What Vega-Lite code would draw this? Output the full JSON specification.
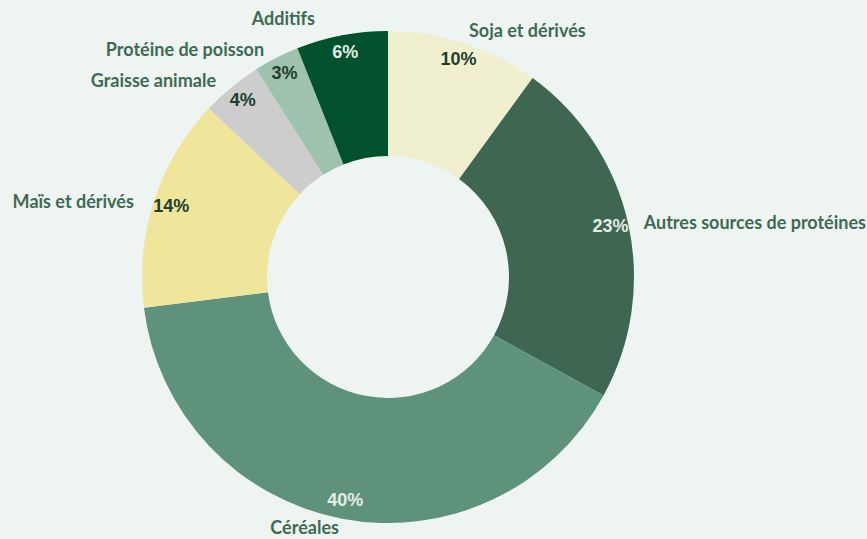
{
  "$schema": "https://vega.github.io/schema/vega-lite/v6.json",
  "autosize": {"type": "none"},
  "width": 540,
  "height": 538,
  "padding": {"left": 118, "top": 8, "right": 209, "bottom": 1},
  "background": "#eef4f1",
  "config": {"view": {"stroke": null}},
  "data": {
    "values": [
      {"order": 1, "label": "Soja et dérivés", "value": 10, "pct": "10%"},
      {"order": 2, "label": "Autres sources de protéines", "value": 23, "pct": "23%"},
      {"order": 3, "label": "Céréales", "value": 40, "pct": "40%"},
      {"order": 4, "label": "Maïs et dérivés", "value": 14, "pct": "14%"},
      {"order": 5, "label": "Graisse animale", "value": 4, "pct": "4%"},
      {"order": 6, "label": "Protéine de poisson", "value": 3, "pct": "3%"},
      {"order": 7, "label": "Additifs", "value": 6, "pct": "6%"}
    ]
  },
  "encoding": {
    "theta": {"field": "value", "type": "quantitative", "stack": true},
    "order": {"field": "order", "type": "quantitative"},
    "detail": {"field": "label", "type": "nominal"}
  },
  "layer": [
    {
      "mark": {"type": "arc", "outerRadius": 246, "innerRadius": 121},
      "encoding": {
        "color": {
          "field": "label",
          "type": "nominal",
          "legend": null,
          "scale": {
            "domain": ["Soja et dérivés", "Autres sources de protéines", "Céréales", "Maïs et dérivés", "Graisse animale", "Protéine de poisson", "Additifs"],
            "range": ["#f0efcf", "#3f6651", "#5e927a", "#efe59b", "#cdcdcd", "#9fc2ae", "#00512c"]
          }
        }
      }
    },
    {
      "mark": {"type": "text", "font": "Liberation Sans", "fontWeight": "bold", "fontSize": 18, "align": "center", "baseline": "middle"},
      "encoding": {
        "radius": {"value": 228},
        "text": {"field": "pct"},
        "color": {
          "condition": {"test": "datum.order == 2 || datum.order == 3 || datum.order == 7", "value": "#e4ede7"},
          "value": "#1e3e2f"
        }
      }
    },
    {
      "mark": {"type": "text", "font": "Lato", "fontWeight": "bold", "fontSize": 18, "align": "left", "baseline": "middle", "color": "#3e6a55", "dy": 4},
      "encoding": {
        "radius": {"value": 262},
        "text": {"condition": {"test": "datum.order <= 2", "field": "label"}, "value": ""}
      }
    },
    {
      "mark": {"type": "text", "font": "Lato", "fontWeight": "bold", "fontSize": 18, "align": "right", "baseline": "middle", "color": "#3e6a55", "dy": 7, "dx": -5},
      "encoding": {
        "radius": {"value": 262},
        "text": {"condition": {"test": "datum.order >= 4 && datum.order <= 6", "field": "label"}, "value": ""}
      }
    },
    {
      "mark": {"type": "text", "font": "Lato", "fontWeight": "bold", "fontSize": 18, "align": "right", "baseline": "middle", "color": "#3e6a55", "dy": 0, "dx": -24},
      "encoding": {
        "radius": {"value": 262},
        "text": {"condition": {"test": "datum.order == 7", "field": "label"}, "value": ""}
      }
    },
    {
      "mark": {"type": "text", "font": "Lato", "fontWeight": "bold", "fontSize": 18, "align": "right", "baseline": "middle", "color": "#3e6a55", "dy": -5},
      "encoding": {
        "radius": {"value": 262},
        "text": {"condition": {"test": "datum.order == 3", "field": "label"}, "value": ""}
      }
    }
  ]
}
